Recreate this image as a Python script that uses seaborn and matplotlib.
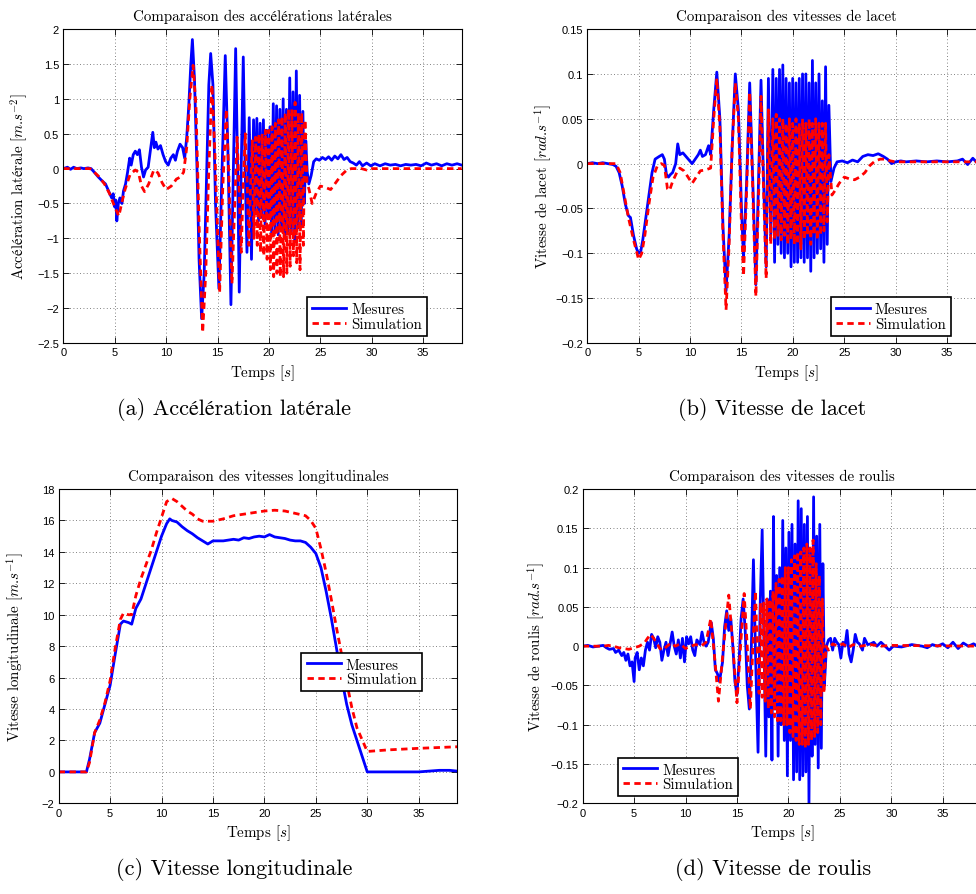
import numpy as np
import pandas as pd
import matplotlib
matplotlib.use("Agg")
import matplotlib.pyplot as plt
import seaborn as sns
from matplotlib.ticker import FuncFormatter

# ---- data: (time [s], value) ----
acc_mes = [(0.0, 0.0), (0.4, 0.02), (0.7, -0.01), (1.0, 0.02), (1.3, 0.0), (1.7, 0.01), (2.0, 0.0), (2.4, 0.01),
           (2.7, 0.0), (3.0, -0.05), (3.4, -0.12), (3.8, -0.18), (4.1, -0.22), (4.4, -0.32), (4.7, -0.42),
           (4.85, -0.36), (5.0, -0.55), (5.1, -0.45), (5.2, -0.75), (5.35, -0.5), (5.5, -0.42), (5.7, -0.5),
           (5.85, -0.32), (6.05, -0.22), (6.25, -0.05), (6.45, 0.15), (6.6, 0.05), (6.8, 0.2), (7.0, 0.25),
           (7.2, 0.2), (7.4, 0.27), (7.6, 0.02), (7.8, -0.12), (8.0, -0.02), (8.25, 0.02), (8.5, 0.3), (8.7, 0.52),
           (8.85, 0.3), (9.0, 0.38), (9.2, 0.28), (9.45, 0.33), (9.7, 0.2), (9.95, 0.1), (10.2, 0.05), (10.45, 0.15),
           (10.7, 0.2), (10.9, 0.12), (11.1, 0.25), (11.35, 0.35), (11.6, 0.3), (11.8, 0.15), (12.0, 0.45),
           (12.2, 0.9), (12.4, 1.5), (12.55, 1.85), (12.75, 1.3), (13.0, 0.0), (13.2, -1.3), (13.45, -2.15),
           (13.7, -1.5), (13.95, 0.0), (14.15, 1.2), (14.33, 1.65), (14.55, 1.2), (14.8, -0.5), (15.13, -1.72),
           (15.4, -0.2), (15.75, 1.62), (16.0, 0.3), (16.3, -1.95), (16.5, -0.3), (16.76, 1.72), (16.95, 0.0),
           (17.11, -1.77), (17.3, 0.0), (17.5, 1.6), (17.68, 0.0), (17.86, -1.2), (18.08, 0.73), (18.3, -1.3),
           (18.5, 0.7), (18.66, -0.6), (18.82, 0.72), (18.98, -0.75), (19.14, 0.65), (19.3, -0.7), (19.46, 0.7),
           (19.62, -0.8), (19.78, 0.55), (19.94, -0.7), (20.1, 0.6), (20.26, -0.95), (20.42, 0.93), (20.58, -0.9),
           (20.74, 0.9), (20.9, -0.95), (21.06, 0.85), (21.22, -0.85), (21.38, 1.0), (21.54, -1.0), (21.7, 0.85),
           (21.86, -0.9), (22.02, 1.3), (22.18, -0.9), (22.34, 1.1), (22.5, -1.05), (22.66, 1.4), (22.82, -0.85),
           (22.98, 1.05), (23.14, -0.8), (23.3, 0.82), (23.45, -0.5), (23.58, 0.4), (23.72, -0.05), (23.88, -0.22),
           (24.1, -0.1), (24.35, 0.1), (24.6, 0.14), (24.9, 0.12), (25.2, 0.16), (25.5, 0.13), (25.8, 0.17),
           (26.1, 0.12), (26.4, 0.18), (26.7, 0.14), (27.0, 0.2), (27.3, 0.13), (27.6, 0.16), (27.9, 0.1),
           (28.2, 0.08), (28.5, 0.05), (28.8, 0.1), (29.1, 0.04), (29.5, 0.08), (29.9, 0.04), (30.3, 0.07),
           (30.8, 0.04), (31.3, 0.07), (31.8, 0.05), (32.3, 0.06), (32.8, 0.04), (33.3, 0.06), (33.8, 0.05),
           (34.3, 0.06), (34.8, 0.04), (35.3, 0.08), (35.8, 0.05), (36.3, 0.07), (36.8, 0.04), (37.3, 0.07),
           (37.8, 0.05), (38.3, 0.07), (38.75, 0.05)]
acc_sim = [(0.0, 0.0), (2.6, 0.0), (3.0, -0.05), (3.5, -0.12), (4.0, -0.22), (4.5, -0.36), (5.0, -0.55),
           (5.4, -0.68), (5.7, -0.48), (6.0, -0.3), (6.5, -0.08), (7.0, -0.02), (7.3, -0.05), (7.6, -0.25),
           (7.9, -0.33), (8.3, -0.22), (8.8, -0.02), (9.2, -0.06), (9.6, -0.2), (10.0, -0.3), (10.5, -0.25),
           (11.0, -0.15), (11.4, -0.12), (11.7, -0.05), (12.0, 0.3), (12.3, 1.0), (12.62, 1.48), (12.9, 0.9),
           (13.2, -0.8), (13.55, -2.35), (13.85, -1.5), (14.15, 0.0), (14.45, 1.2), (14.75, 0.2), (15.2, -1.78),
           (15.5, -0.3), (15.85, 0.85), (16.1, -0.1), (16.4, -1.65), (16.65, -0.6), (16.9, 0.45), (17.1, -0.3),
           (17.3, -1.2), (17.5, -0.2), (17.7, 0.5), (17.9, -0.3), (18.05, -1.1), (18.2, -0.3), (18.38, 0.4),
           (18.54, -1.0), (18.7, 0.45), (18.86, -1.1), (19.02, 0.5), (19.18, -1.2), (19.34, 0.5), (19.5, -1.25),
           (19.66, 0.55), (19.82, -1.3), (19.98, 0.55), (20.14, -1.45), (20.3, 0.6), (20.46, -1.55), (20.62, 0.65),
           (20.78, -1.5), (20.94, 0.7), (21.1, -1.55), (21.26, 0.75), (21.42, -1.55), (21.58, 0.8), (21.74, -1.5),
           (21.9, 0.85), (22.06, -1.4), (22.22, 0.85), (22.38, -1.25), (22.54, 0.95), (22.7, -1.35), (22.86, 0.8),
           (23.02, -1.45), (23.18, 0.8), (23.34, -1.1), (23.5, 0.7), (23.7, -0.2), (23.9, -0.3), (24.2, -0.5),
           (24.6, -0.35), (25.0, -0.25), (25.5, -0.27), (26.0, -0.3), (26.5, -0.2), (27.0, -0.1), (27.5, -0.03),
           (28.0, 0.0), (29.0, 0.0), (29.5, -0.02), (30.0, 0.0), (38.75, 0.0)]

lacet_mes = [(0.0, 0.0), (0.5, 0.001), (1.0, 0.0), (1.5, 0.001), (2.0, 0.0), (2.5, -0.001), (2.8, -0.003),
             (3.1, -0.01), (3.4, -0.025), (3.7, -0.045), (4.0, -0.058), (4.2, -0.06), (4.5, -0.08), (4.8, -0.095),
             (5.0, -0.1), (5.2, -0.098), (5.4, -0.085), (5.7, -0.06), (6.0, -0.035), (6.3, -0.01), (6.6, 0.005),
             (7.0, 0.008), (7.3, 0.01), (7.5, 0.005), (7.7, -0.012), (7.9, -0.015), (8.1, -0.012), (8.3, -0.01),
             (8.6, 0.0), (8.8, 0.022), (9.0, 0.01), (9.3, 0.012), (9.6, 0.008), (9.9, 0.004), (10.2, 0.0),
             (10.5, 0.005), (10.8, 0.01), (11.0, 0.015), (11.2, 0.008), (11.5, 0.01), (11.8, 0.02), (12.0, 0.01),
             (12.3, 0.06), (12.6, 0.102), (12.9, 0.05), (13.2, -0.07), (13.5, -0.142), (13.8, -0.08), (14.1, 0.02),
             (14.4, 0.1), (14.7, 0.06), (15.0, -0.05), (15.2, -0.105), (15.5, -0.02), (15.8, 0.09), (16.1, -0.02),
             (16.4, -0.135), (16.7, 0.0), (16.9, 0.093), (17.15, -0.02), (17.4, -0.115), (17.62, 0.095),
             (17.85, -0.08), (18.05, 0.105), (18.22, -0.11), (18.38, 0.095), (18.54, -0.09), (18.7, 0.105),
             (18.86, -0.1), (19.02, 0.11), (19.18, -0.105), (19.34, 0.095), (19.5, -0.1), (19.66, 0.09),
             (19.82, -0.115), (19.98, 0.095), (20.14, -0.11), (20.3, 0.09), (20.46, -0.11), (20.62, 0.095),
             (20.78, -0.105), (20.94, 0.1), (21.1, -0.11), (21.26, 0.1), (21.42, -0.105), (21.58, 0.09),
             (21.74, -0.12), (21.9, 0.115), (22.06, -0.105), (22.22, 0.09), (22.38, -0.1), (22.54, 0.1),
             (22.7, -0.095), (22.86, 0.07), (23.02, -0.11), (23.18, 0.108), (23.34, -0.09), (23.5, 0.065),
             (23.7, -0.02), (24.0, -0.005), (24.3, 0.002), (24.8, 0.003), (25.3, 0.001), (25.8, 0.004),
             (26.3, 0.002), (26.8, 0.008), (27.3, 0.01), (27.8, 0.009), (28.3, 0.011), (28.8, 0.008), (29.2, 0.005),
             (29.6, 0.0), (30.0, 0.002), (30.5, 0.003), (31.0, 0.002), (32.0, 0.003), (33.0, 0.002), (34.0, 0.003),
             (35.0, 0.002), (36.0, 0.003), (36.5, 0.005), (37.0, -0.001), (37.5, 0.006), (38.0, 0.0), (38.5, 0.004),
             (38.75, 0.002)]
lacet_sim = [(0.0, 0.0), (2.8, 0.0), (3.2, -0.01), (3.6, -0.035), (4.0, -0.06), (4.5, -0.085), (5.0, -0.107),
             (5.3, -0.1), (5.6, -0.08), (6.0, -0.045), (6.4, -0.015), (6.8, -0.003), (7.2, 0.0), (7.5, -0.002),
             (7.8, -0.028), (8.0, -0.03), (8.3, -0.02), (8.7, -0.01), (9.0, -0.005), (9.4, -0.008), (9.8, -0.015),
             (10.2, -0.022), (10.6, -0.015), (11.0, -0.008), (11.5, -0.007), (12.0, -0.005), (12.3, 0.05),
             (12.6, 0.095), (12.9, 0.04), (13.2, -0.08), (13.5, -0.163), (13.8, -0.09), (14.1, 0.02), (14.4, 0.09),
             (14.7, 0.05), (15.0, -0.07), (15.2, -0.125), (15.5, -0.03), (15.8, 0.08), (16.1, -0.03), (16.4, -0.148),
             (16.7, -0.02), (16.9, 0.075), (17.15, -0.03), (17.4, -0.128), (17.62, 0.06), (17.85, -0.09),
             (18.05, 0.05), (18.22, -0.085), (18.38, 0.055), (18.54, -0.08), (18.7, 0.05), (18.86, -0.085),
             (19.02, 0.05), (19.18, -0.08), (19.34, 0.045), (19.5, -0.09), (19.66, 0.05), (19.82, -0.085),
             (19.98, 0.045), (20.14, -0.09), (20.3, 0.05), (20.46, -0.09), (20.62, 0.045), (20.78, -0.095),
             (20.94, 0.05), (21.1, -0.085), (21.26, 0.045), (21.42, -0.08), (21.58, 0.05), (21.74, -0.09),
             (21.9, 0.045), (22.06, -0.08), (22.22, 0.05), (22.38, -0.085), (22.54, 0.045), (22.7, -0.08),
             (22.86, 0.045), (23.02, -0.075), (23.18, 0.045), (23.34, -0.065), (23.5, 0.01), (23.8, -0.035),
             (24.1, -0.03), (24.5, -0.022), (25.0, -0.015), (25.5, -0.017), (26.0, -0.018), (26.5, -0.015),
             (27.0, -0.01), (27.5, -0.002), (28.0, 0.003), (28.5, 0.005), (29.0, 0.005), (29.5, 0.003),
             (30.0, 0.002), (38.75, 0.002)]

vlong_mes = [(0.0, 0.0), (2.7, 0.0), (3.0, 0.8), (3.5, 2.5), (4.0, 3.1), (4.5, 4.3), (5.0, 5.5), (5.5, 7.5),
             (6.0, 9.4), (6.3, 9.6), (6.8, 9.5), (7.1, 9.4), (7.5, 10.4), (8.0, 11.0), (8.5, 12.0), (9.0, 13.0),
             (9.5, 14.0), (10.0, 15.0), (10.5, 15.8), (10.8, 16.1), (11.0, 16.0), (11.5, 15.9), (12.0, 15.6),
             (12.5, 15.35), (13.0, 15.15), (13.5, 14.9), (14.0, 14.7), (14.5, 14.5), (15.0, 14.7), (16.0, 14.7),
             (17.0, 14.8), (17.5, 14.75), (18.0, 14.9), (18.5, 14.85), (19.0, 14.95), (19.5, 15.0), (20.0, 14.95),
             (20.5, 15.1), (21.0, 14.95), (21.5, 14.9), (22.0, 14.85), (22.5, 14.75), (23.0, 14.7), (23.5, 14.7),
             (24.0, 14.6), (24.5, 14.3), (25.0, 13.9), (25.5, 13.0), (26.0, 11.5), (26.5, 9.8), (27.0, 7.9),
             (27.5, 6.0), (28.0, 4.3), (28.5, 3.0), (29.0, 2.0), (30.0, 0.0), (33.0, 0.0), (35.0, 0.0), (36.0, 0.05),
             (37.0, 0.1), (38.0, 0.1), (38.75, 0.05)]
vlong_sim = [(0.0, 0.0), (2.7, 0.0), (3.0, 0.6), (3.5, 2.5), (4.0, 3.3), (4.5, 4.4), (5.0, 5.8), (5.5, 7.9),
             (6.0, 9.7), (6.3, 10.1), (6.8, 10.0), (7.1, 10.0), (7.5, 11.2), (8.0, 12.3), (8.5, 13.2), (9.0, 14.1),
             (9.5, 15.2), (10.0, 16.2), (10.5, 17.2), (11.0, 17.4), (11.5, 17.2), (12.0, 16.9), (12.5, 16.6),
             (13.0, 16.4), (13.5, 16.1), (14.0, 15.95), (15.0, 15.95), (16.0, 16.1), (17.0, 16.3), (18.0, 16.4),
             (19.0, 16.5), (20.0, 16.6), (21.0, 16.65), (22.0, 16.6), (23.0, 16.45), (24.0, 16.3), (24.5, 16.0),
             (25.0, 15.5), (25.5, 14.2), (26.0, 12.7), (26.5, 11.0), (27.0, 9.2), (27.5, 7.5), (28.0, 5.7),
             (28.5, 4.1), (29.0, 2.8), (30.0, 1.3), (32.0, 1.4), (35.0, 1.5), (38.75, 1.6)]

roulis_mes = [(0.0, 0.0), (0.5, 0.001), (1.0, -0.001), (1.5, 0.0), (2.0, 0.001), (2.3, -0.002), (2.6, -0.004),
              (3.0, -0.003), (3.2, -0.008), (3.5, -0.005), (3.8, -0.012), (4.0, -0.008), (4.2, -0.018),
              (4.4, -0.01), (4.6, -0.025), (4.8, -0.02), (5.0, -0.045), (5.1, -0.015), (5.3, -0.008), (5.5, -0.03),
              (5.7, -0.015), (5.9, -0.025), (6.1, -0.005), (6.3, 0.005), (6.5, -0.005), (6.7, 0.015), (6.9, 0.01),
              (7.1, -0.002), (7.3, 0.012), (7.5, 0.005), (7.7, -0.018), (7.9, -0.005), (8.1, 0.005), (8.3, -0.012),
              (8.5, 0.003), (8.7, 0.018), (8.9, 0.0), (9.1, -0.01), (9.3, 0.008), (9.5, -0.015), (9.7, 0.01),
              (9.9, -0.02), (10.1, 0.012), (10.3, 0.003), (10.5, 0.012), (10.7, -0.005), (10.9, -0.012),
              (11.1, 0.008), (11.4, 0.002), (11.6, 0.018), (11.8, 0.005), (12.0, 0.0), (12.2, 0.005), (12.5, 0.03),
              (12.7, 0.01), (12.9, -0.03), (13.1, -0.035), (13.3, -0.045), (13.6, -0.02), (13.8, 0.025),
              (14.0, 0.045), (14.2, 0.02), (14.4, 0.035), (14.6, 0.0), (14.8, -0.045), (15.0, -0.062), (15.2, -0.02),
              (15.4, 0.035), (15.6, 0.06), (15.8, 0.02), (16.0, -0.05), (16.2, -0.08), (16.4, 0.0), (16.6, 0.11),
              (16.85, -0.035), (17.05, -0.135), (17.25, 0.05), (17.45, 0.148), (17.65, -0.02), (17.8, -0.14),
              (17.95, 0.06), (18.1, -0.09), (18.25, 0.07), (18.4, -0.145), (18.55, 0.165), (18.7, -0.08),
              (18.85, 0.09), (19.0, -0.14), (19.15, 0.1), (19.3, -0.1), (19.45, 0.16), (19.6, -0.12), (19.75, 0.125),
              (19.9, -0.165), (20.05, 0.145), (20.2, -0.12), (20.35, 0.155), (20.5, -0.17), (20.65, 0.13),
              (20.8, -0.16), (20.95, 0.185), (21.1, -0.17), (21.25, 0.175), (21.4, -0.165), (21.55, 0.155),
              (21.7, -0.16), (21.85, 0.165), (22.0, -0.2), (22.15, 0.12), (22.3, -0.14), (22.45, 0.19),
              (22.6, -0.125), (22.75, 0.14), (22.9, -0.155), (23.05, 0.155), (23.2, -0.13), (23.35, 0.105),
              (23.5, -0.05), (23.7, 0.0), (23.9, 0.008), (24.1, 0.01), (24.3, -0.005), (24.5, 0.01), (24.7, 0.005),
              (24.9, 0.002), (25.1, -0.015), (25.3, 0.005), (25.5, 0.0), (25.7, 0.02), (25.9, -0.01), (26.1, -0.02),
              (26.3, -0.005), (26.5, 0.015), (26.7, 0.005), (26.9, 0.003), (27.2, -0.005), (27.4, 0.01),
              (27.7, 0.002), (28.0, 0.003), (28.3, 0.005), (28.6, 0.0), (29.0, 0.005), (29.4, 0.0), (29.8, -0.005),
              (30.2, 0.0), (31.0, -0.001), (32.0, 0.002), (33.0, 0.0), (33.5, -0.002), (34.0, 0.002), (34.5, 0.0),
              (35.0, 0.003), (35.5, -0.002), (36.0, 0.005), (36.5, -0.003), (37.0, 0.004), (37.5, 0.0),
              (38.0, 0.003), (38.5, -0.001), (38.75, 0.002)]
roulis_sim = [(0.0, 0.0), (2.0, 0.0), (2.5, 0.001), (3.0, 0.0), (3.5, -0.002), (4.0, -0.003), (4.5, -0.004),
              (5.0, -0.002), (5.5, 0.0), (6.0, 0.004), (6.3, 0.01), (6.6, 0.015), (6.9, 0.01), (7.2, 0.004),
              (7.5, -0.003), (7.8, -0.005), (8.2, 0.0), (8.6, 0.004), (9.0, 0.0), (9.5, 0.003), (10.0, -0.003),
              (10.5, 0.0), (11.0, 0.002), (11.5, 0.0), (12.0, 0.005), (12.45, 0.035), (12.8, -0.01), (13.2, -0.07),
              (13.7, 0.0), (14.2, 0.065), (14.6, 0.0), (15.0, -0.072), (15.35, 0.0), (15.7, 0.067), (16.0, 0.0),
              (16.3, -0.08), (16.55, 0.0), (16.8, 0.07), (17.0, -0.02), (17.15, -0.06), (17.3, 0.055),
              (17.45, -0.065), (17.6, 0.055), (17.75, -0.07), (17.9, 0.06), (18.05, -0.08), (18.2, 0.06),
              (18.35, -0.085), (18.5, 0.07), (18.65, -0.09), (18.8, 0.08), (18.95, -0.095), (19.1, 0.085),
              (19.25, -0.095), (19.4, 0.09), (19.55, -0.1), (19.7, 0.1), (19.85, -0.1), (20.0, 0.1), (20.15, -0.11),
              (20.3, 0.11), (20.45, -0.115), (20.6, 0.115), (20.75, -0.12), (20.9, 0.12), (21.05, -0.125),
              (21.2, 0.12), (21.35, -0.125), (21.5, 0.125), (21.65, -0.13), (21.8, 0.13), (21.95, -0.125),
              (22.1, 0.125), (22.25, -0.12), (22.4, 0.135), (22.55, -0.115), (22.7, 0.105), (22.85, -0.11),
              (23.0, 0.09), (23.15, -0.1), (23.3, 0.06), (23.45, -0.06), (23.65, 0.0), (23.9, -0.005), (24.3, 0.003),
              (24.8, 0.0), (25.3, 0.003), (25.8, -0.002), (26.3, 0.002), (27.0, 0.0), (28.0, 0.002), (29.0, 0.0),
              (30.0, 0.001), (38.75, 0.0)]

titles = ["Comparaison des accélérations latérales", "Comparaison des vitesses de lacet",
          "Comparaison des vitesses longitudinales", "Comparaison des vitesses de roulis"]
# label words set in \mathrm so that accented letters fall back to a serif face inside mathtext
ylabels = [r"$\mathrm{Accélération\ latérale}\ [m$.$s^{-2}]$", r"Vitesse de lacet $[rad$.$s^{-1}]$",
           r"Vitesse longitudinale $[m$.$s^{-1}]$", r"Vitesse de roulis $[rad$.$s^{-1}]$"]
xlabel = r"Temps $[s]$"
captions = ["(a) Accélération latérale", "(b) Vitesse de lacet",
            "(c) Vitesse longitudinale", "(d) Vitesse de roulis"]
series_names = ["Mesures", "Simulation"]

SERIF = ["cmr10", "STIXGeneral", "DejaVu Serif"]
plt.rcParams["font.family"] = ["Liberation Sans", "DejaVu Sans"]
plt.rcParams["mathtext.fontset"] = "cm"
plt.rcParams["axes.formatter.use_mathtext"] = False

fig = plt.figure(figsize=(9.76, 8.95), dpi=100)

# axes rectangles in figure fractions (right column runs past the page edge, as in the scan)
panels = [
    dict(rect=[0.0649, 0.6156, 0.4082, 0.3508], mes=acc_mes, sim=acc_sim, ylim=(-2.5, 2.0), step=0.5,
         loc="lower right", anchor=(0.913, 0.022), ylx=-0.084, cap=(0.240, 0.542)),
    dict(rect=[0.6017, 0.6156, 0.4082, 0.3508], mes=lacet_mes, sim=lacet_sim, ylim=(-0.2, 0.15), step=0.05,
         loc="lower right", anchor=(0.913, 0.022), ylx=-0.083, cap=(0.791, 0.542)),
    dict(rect=[0.0601, 0.1013, 0.4084, 0.3512], mes=vlong_mes, sim=vlong_sim, ylim=(-2, 18), step=2,
         loc="lower right", anchor=(0.911, 0.356), ylx=-0.082, cap=(0.240, 0.028)),
    dict(rect=[0.5970, 0.1013, 0.4084, 0.3512], mes=roulis_mes, sim=roulis_sim, ylim=(-0.2, 0.2), step=0.05,
         loc="lower left", anchor=(0.088, 0.022), ylx=-0.089, cap=(0.792, 0.028)),
]


def tick_text(v, pos):
    if abs(v) < 1e-9:
        return "0"
    return f"{v:g}".replace("-", "\u2212")


fmt = FuncFormatter(tick_text)

for i, p in enumerate(panels):
    ax = fig.add_axes(p["rect"])
    d_mes = pd.DataFrame(p["mes"], columns=["t", "v"])
    d_sim = pd.DataFrame(p["sim"], columns=["t", "v"])
    sns.lineplot(data=d_mes, x="t", y="v", ax=ax, color="blue", linewidth=2.0,
                 label=series_names[0], estimator=None, sort=False)
    sns.lineplot(data=d_sim, x="t", y="v", ax=ax, color="red", linewidth=2.0,
                 linestyle=(0, (2.3, 1.6)), label=series_names[1], estimator=None, sort=False)

    ax.set_xlim(0, 38.75)
    ax.set_ylim(*p["ylim"])
    ax.set_xticks(np.arange(0, 36, 5))
    ax.set_yticks(np.round(np.arange(p["ylim"][0], p["ylim"][1] + p["step"] / 2, p["step"]), 6))
    ax.xaxis.set_major_formatter(fmt)
    ax.yaxis.set_major_formatter(fmt)
    ax.tick_params(direction="in", top=True, right=True, length=4, width=0.6, labelsize=8, pad=3)
    ax.set_axisbelow(True)
    ax.grid(True, color="0.35", linestyle=(0, (1, 3)), linewidth=0.6)
    for s in ax.spines.values():
        s.set_linewidth(0.8)
        s.set_color("black")

    ax.set_title(titles[i], fontsize=10.8, family=SERIF, pad=6.5)
    ax.set_xlabel(xlabel, fontsize=10.8, family=SERIF)
    ax.set_ylabel(ylabels[i], fontsize=10.8, family=SERIF)
    ax.xaxis.set_label_coords(0.5, -0.062)
    ax.yaxis.set_label_coords(p["ylx"], 0.5)

    leg = ax.legend(loc=p["loc"], bbox_to_anchor=p["anchor"], prop={"family": SERIF, "size": 10.8},
                    fancybox=False, framealpha=1, edgecolor="black", handlelength=2.3,
                    handletextpad=0.3, borderpad=0.35, labelspacing=0.05, borderaxespad=0)
    leg.get_frame().set_linewidth(1.2)

    fig.text(p["cap"][0], p["cap"][1], captions[i], ha="center", va="center",
             fontsize=16, family=SERIF)

fig.savefig("out.png", dpi=100)
